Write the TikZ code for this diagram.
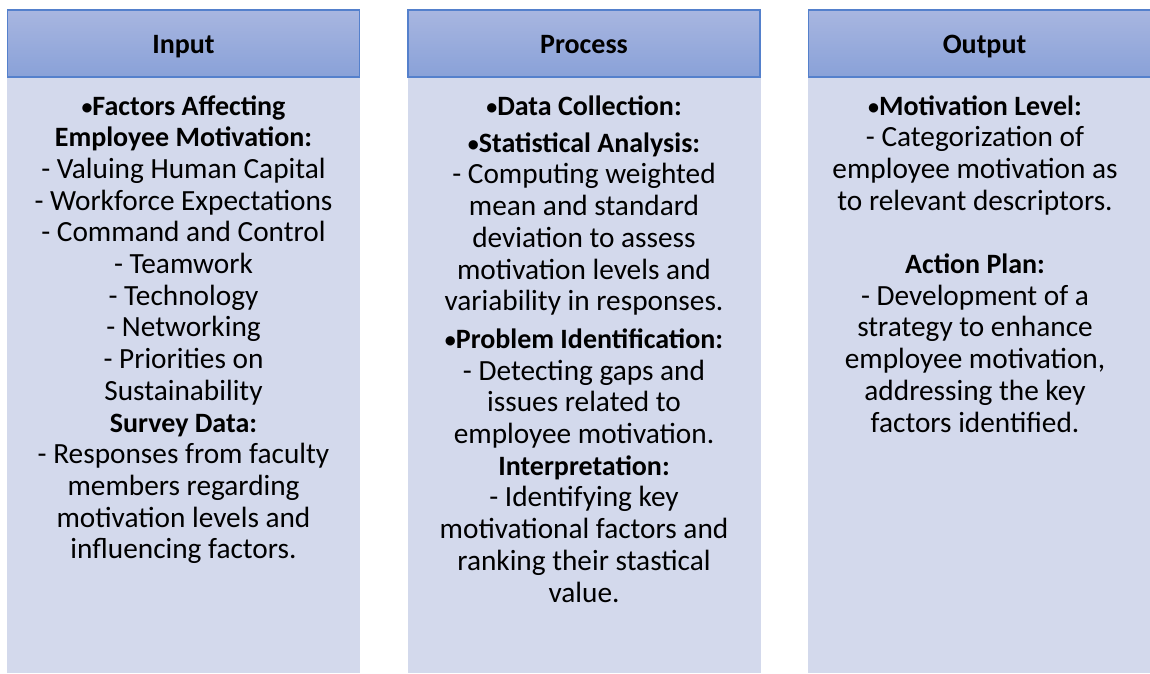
\documentclass[tikz,border=0pt]{standalone}
\usepackage{fontspec}
\setmainfont{Carlito}
\definecolor{ipocolor0001}{RGB}{168,182,224}
\definecolor{ipocolor0002}{RGB}{137,161,216}
\definecolor{ipocolor0003}{RGB}{84,128,204}
\definecolor{ipocolor0004}{RGB}{211,217,236}
\newcommand{\ipobul}{{\fontsize{22}{22}\selectfont\raisebox{0.5pt}{•}}}
\newcommand{\ipohd}[1]{{\fontsize{28}{31.7}\selectfont\bfseries #1}}
\begin{document}
\begin{tikzpicture}[yscale=-1
,hstyle/.style={draw=ipocolor0003,line width=1.5pt,top color=ipocolor0001,bottom color=ipocolor0002,minimum width=352pt,minimum height=67pt,inner sep=0,text height=23pt,text depth=4pt,font=\fontsize{28}{31.7}\selectfont\bfseries}
,bstyle/.style={fill=ipocolor0004,minimum width=353pt,minimum height=596pt,inner sep=0}
,tstyle/.style={anchor=base,align=center,inner sep=0,color=black,font=\fontsize{29.3}{31.7}\selectfont}
]
\useasboundingbox (0pt,0pt) rectangle (1150pt,673pt);
\clip (0pt,0pt) rectangle (1150pt,673pt);
\node[bstyle] (inbody) at (183.5pt,375pt) {};
\node[bstyle] (procbody) at (584pt,375pt) {};
\node[bstyle] (outbody) at (984.5pt,375pt) {};
\node[hstyle] (inhead) at (183.5pt,43.5pt) {Input};
\node[hstyle] (prochead) at (584pt,43.5pt) {Process};
\node[hstyle] (outhead) at (984.5pt,43.5pt) {Output};
\node[tstyle] (intext) at (183.5pt,558.8pt) {\ipohd{\ipobul Factors Affecting}\\
\ipohd{Employee Motivation:}\\
- Valuing Human Capital\\
- Workforce Expectations\\
- Command and Control\\
- Teamwork\\
- Technology\\
- Networking\\
- Priorities on\\
Sustainability\\
\ipohd{Survey Data:}\\
- Responses from faculty\\
members regarding\\
motivation levels and\\
influencing factors.};
\node[tstyle] (proctext) at (584pt,602pt) {\ipohd{\ipobul Data Collection:}\\[5.5pt]
\ipohd{\ipobul Statistical Analysis:}\\
- Computing weighted\\
mean and standard\\
deviation to assess\\
motivation levels and\\
variability in responses.\\[6pt]
\ipohd{\ipobul Problem Identification:}\\
- Detecting gaps and\\
issues related to\\
employee motivation.\\
\ipohd{Interpretation:}\\
- Identifying key\\
motivational factors and\\
ranking their stastical\\
value.};
\node[tstyle] (outtext) at (975pt,432pt) {\ipohd{\ipobul Motivation Level:}\\
- Categorization of\\
employee motivation as\\
to relevant descriptors.\\[31.7pt]
\ipohd{Action Plan:}\\
- Development of a\\
strategy to enhance\\
employee motivation,\\
addressing the key\\
factors identified.};
\end{tikzpicture}
\end{document}
